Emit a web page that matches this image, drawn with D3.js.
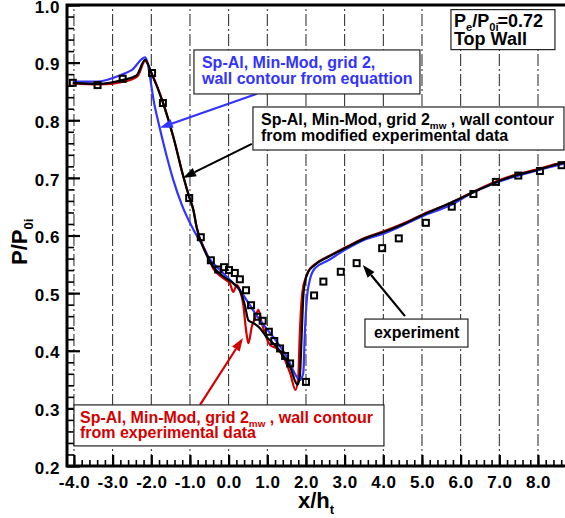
<!DOCTYPE html>
<html>
<head>
<meta charset="utf-8">
<script src="https://cdn.jsdelivr.net/npm/d3@7"></script>
<style>
	body { margin: 0; background: #fff; }
	text { font-family: "Liberation Sans", Arial, sans-serif; font-weight: bold; }
</style>
</head>
<body>
<div id="widget"></div>
<script>
// P/P0i along the top wall, Pe/P0 = 0.72

// experiment (squares)
var expX = [-4.03, -3.39, -2.74, -1.98, -1.70, -1.02, -0.72, -0.46, -0.27, -0.12, 0.01, 0.16, 0.29, 0.45, 0.58, 0.74, 0.88, 1.04, 1.18, 1.33, 1.46, 1.59, 2.00, 2.21, 2.45, 2.90, 3.31, 3.97, 4.40, 5.10, 5.77, 6.33, 6.91, 7.49, 8.05, 8.61];
var expP = [0.865, 0.861, 0.872, 0.882, 0.830, 0.665, 0.597, 0.557, 0.541, 0.545, 0.540, 0.535, 0.524, 0.505, 0.479, 0.459, 0.452, 0.433, 0.417, 0.404, 0.391, 0.378, 0.346, 0.496, 0.520, 0.537, 0.552, 0.578, 0.595, 0.622, 0.650, 0.672, 0.693, 0.704, 0.712, 0.722];

// Sp-Al, Min-Mod, grid 2, wall contour from equation (blue)
var eqX = [-4.03, -3.41, -2.77, -2.51, -2.16, -1.91, -1.78, -1.60, -1.43, -1.21, -0.91, -0.66, -0.53, -0.22, 0.03, 0.29, 0.55, 0.81, 1.15, 1.50, 1.76, 1.84, 1.93, 1.97, 2.02, 2.10, 2.23, 2.58, 3.01, 3.53, 4.04, 5.03, 5.72, 6.33, 6.93, 8.05, 8.75];
var eqP = [0.867, 0.867, 0.879, 0.887, 0.909, 0.824, 0.786, 0.737, 0.696, 0.653, 0.610, 0.581, 0.563, 0.540, 0.523, 0.505, 0.479, 0.453, 0.424, 0.390, 0.355, 0.349, 0.361, 0.430, 0.488, 0.523, 0.543, 0.557, 0.575, 0.593, 0.604, 0.634, 0.652, 0.675, 0.692, 0.714, 0.726];

// grid 2mw, wall contour from modified experimental data (black)
var modX = [-4.03, -3.37, -2.73, -2.38, -2.16, -1.99, -1.69, -1.43, -1.17, -1.02, -0.91, -0.83, -0.61, -0.40, -0.14, 0.12, 0.29, 0.42, 0.51, 0.64, 0.81, 0.98, 1.15, 1.37, 1.59, 1.78, 1.84, 1.89, 1.93, 1.97, 2.06, 2.23, 2.58, 3.01, 3.53, 4.04, 4.56, 5.03, 5.72, 6.33, 6.93, 7.45, 8.05, 8.40, 8.75];
var modP = [0.865, 0.863, 0.870, 0.878, 0.905, 0.881, 0.829, 0.771, 0.702, 0.667, 0.644, 0.615, 0.572, 0.546, 0.529, 0.517, 0.505, 0.479, 0.453, 0.448, 0.439, 0.424, 0.413, 0.396, 0.372, 0.341, 0.355, 0.430, 0.494, 0.517, 0.537, 0.549, 0.563, 0.578, 0.595, 0.607, 0.621, 0.636, 0.656, 0.675, 0.693, 0.705, 0.715, 0.722, 0.727];

// grid 2mw, wall contour from experimental data (red)
var rawX = [-4.03, -3.37, -2.64, -2.35, -2.16, -1.99, -1.69, -1.43, -1.17, -1.02, -0.91, -0.83, -0.57, -0.40, -0.14, 0.03, 0.12, 0.21, 0.29, 0.38, 0.45, 0.51, 0.60, 0.68, 0.77, 0.85, 0.94, 1.07, 1.24, 1.41, 1.59, 1.73, 1.80, 1.84, 1.89, 1.93, 1.97, 2.06, 2.23, 2.58, 3.01, 3.53, 4.04, 4.56, 5.03, 5.72, 6.33, 6.93, 7.45, 8.05, 8.40, 8.75];
var rawP = [0.864, 0.862, 0.868, 0.877, 0.903, 0.881, 0.829, 0.771, 0.702, 0.667, 0.644, 0.615, 0.569, 0.543, 0.526, 0.517, 0.502, 0.514, 0.505, 0.479, 0.436, 0.413, 0.442, 0.456, 0.471, 0.450, 0.430, 0.410, 0.404, 0.390, 0.361, 0.332, 0.355, 0.430, 0.490, 0.512, 0.522, 0.538, 0.550, 0.564, 0.579, 0.596, 0.608, 0.622, 0.637, 0.656, 0.676, 0.694, 0.706, 0.716, 0.723, 0.728];

var xTicks = [-4, -3, -2, -1, 0, 1, 2, 3, 4, 5, 6, 7, 8];
var yTicks = [0.2, 0.3, 0.4, 0.5, 0.6, 0.7, 0.8, 0.9, 1.0];

var width = 565, height = 518;
var blue = "#3333ff", red = "#d40000";

var svg = d3.select("#widget")
	.append("svg")
	.attr("width", width)
	.attr("height", height);

var x = d3.scaleLinear().domain([-4.18, 8.75]).range([67, 567]);
var y = d3.scaleLinear().domain([0.2, 1.0]).range([466, 5]);

// vertical dash-dot grid
svg.selectAll("line.grid")
	.data(xTicks)
	.enter()
	.append("line")
	.attr("class", "grid")
	.attr("x1", function(d) { return x(d); })
	.attr("x2", function(d) { return x(d); })
	.attr("y1", y(0.2))
	.attr("y2", y(1.0))
	.style("stroke", "#222")
	.style("stroke-width", 1)
	.style("stroke-dasharray", "12,3,2,3");

// inward ticks, minor first then major with labels
var xMinor = d3.range(-42, 88, 2).map(function(d) { return d / 10; });
var yMinor = d3.range(20, 101, 2).map(function(d) { return d / 100; });

svg.append("g")
	.attr("transform", "translate(0," + y(0.2) + ")")
	.call(d3.axisBottom(x).tickValues(xMinor).tickSize(-6).tickFormat(""));
svg.append("g")
	.attr("transform", "translate(" + x.range()[0] + ",0)")
	.call(d3.axisLeft(y).tickValues(yMinor).tickSize(-7).tickFormat(""));

svg.append("g")
	.attr("class", "xaxis")
	.attr("transform", "translate(0," + y(0.2) + ")")
	.call(d3.axisBottom(x).tickValues(xTicks).tickSize(-11).tickPadding(10)
		.tickFormat(function(d) { return d.toFixed(1); }));
svg.append("g")
	.attr("class", "yaxis")
	.attr("transform", "translate(" + x.range()[0] + ",0)")
	.call(d3.axisLeft(y).tickValues(yTicks).tickSize(-13).tickPadding(7)
		.tickFormat(function(d) { return d.toFixed(1); }));

svg.selectAll(".domain").remove();
svg.selectAll(".tick line").style("stroke", "#000").style("stroke-width", 1.6);
svg.selectAll(".xaxis .tick line, .yaxis .tick line").style("stroke-width", 2.2);
svg.selectAll(".tick text")
	.style("font-family", "'Liberation Sans', Arial, sans-serif")
	.style("font-weight", "bold")
	.style("font-size", "17px")
	.style("letter-spacing", "0.5px")
	.attr("fill", "#000");
svg.selectAll(".yaxis .tick text").attr("dy", "0.42em");

// frame
svg.append("rect")
	.attr("x", x.range()[0])
	.attr("y", y(1.0))
	.attr("width", x.range()[1] - x.range()[0])
	.attr("height", y(0.2) - y(1.0))
	.style("fill", "none")
	.style("stroke", "#000")
	.style("stroke-width", 3);

// axis titles
var xt = svg.append("text")
	.attr("x", 298)
	.attr("y", 508)
	.style("font-size", "22px");
xt.append("tspan").text("x/h");
xt.append("tspan").attr("dy", 6).style("font-size", "13px").text("t");

var yt = svg.append("text")
	.attr("transform", "translate(27,265) rotate(-90)")
	.style("font-size", "22px");
yt.append("tspan").text("P/P");
yt.append("tspan").attr("dy", 6).style("font-size", "13px").text("0i");

// curves
function series(xs, ps) {
	return xs.map(function(d, i) { return [d, ps[i]]; });
}

var line = d3.line()
	.x(function(d) { return x(d[0]); })
	.y(function(d) { return y(d[1]); })
	.curve(d3.curveMonotoneX);

var curves = [
	{ data: series(rawX, rawP), colour: red },
	{ data: series(eqX, eqP), colour: blue },
	{ data: series(modX, modP), colour: "#000" }
];

svg.selectAll("path.curve")
	.data(curves)
	.enter()
	.append("path")
	.attr("class", "curve")
	.attr("d", function(d) { return line(d.data); })
	.style("fill", "none")
	.style("stroke", function(d) { return d.colour; })
	.style("stroke-width", 2.2);

// experiment squares
svg.selectAll("rect.exp")
	.data(series(expX, expP))
	.enter()
	.append("rect")
	.attr("class", "exp")
	.attr("x", function(d) { return x(d[0]) - 3; })
	.attr("y", function(d) { return y(d[1]) - 3; })
	.attr("width", 6)
	.attr("height", 6)
	.style("fill", "none")
	.style("stroke", "#000")
	.style("stroke-width", 2);

// arrows: tail and tip in data coords
function arrow(x0, y0, x1, y1, colour) {
	var ax = x(x0), ay = y(y0), bx = x(x1), by = y(y1);
	var ang = Math.atan2(by - ay, bx - ax);
	var len = 13, half = 4.5;
	var cx = bx - len * Math.cos(ang), cy = by - len * Math.sin(ang);
	svg.append("line")
		.attr("x1", ax).attr("y1", ay)
		.attr("x2", cx).attr("y2", cy)
		.style("stroke", colour)
		.style("stroke-width", 2.2);
	svg.append("path")
		.attr("d", "M" + bx + "," + by +
			"L" + (cx + half * Math.sin(ang)) + "," + (cy - half * Math.cos(ang)) +
			"L" + (cx - half * Math.sin(ang)) + "," + (cy + half * Math.cos(ang)) + "Z")
		.style("fill", colour);
}

arrow(0.73, 0.846, -1.78, 0.787, blue);
arrow(0.60, 0.759, -1.18, 0.700, "#000");
arrow(-0.74, 0.306, 0.37, 0.422, red);
arrow(4.56, 0.460, 3.47, 0.549, "#000");

// label boxes
function box(bx, by, w, h, colour, lines, size) {
	var g = svg.append("g")
		.attr("transform", "translate(" + x(bx) + "," + y(by) + ")");
	g.append("rect")
		.attr("width", w)
		.attr("height", h)
		.style("fill", "#fff")
		.style("stroke", "#222")
		.style("stroke-width", 1.2);
	lines.forEach(function(l) {
		var t = g.append("text")
			.attr("x", l.x)
			.attr("y", l.y)
			.attr("fill", colour)
			.style("font-size", size + "px");
		var down = 0;
		l.parts.forEach(function(p) {
			if (p.sub) {
				t.append("tspan").attr("dy", 4).attr("dx", p.dx || 0)
					.style("font-size", (size * 0.62) + "px").text(p.sub);
				down = 4;
			} else {
				t.append("tspan").attr("dy", -down).attr("dx", p.dx || 0).text(p.t);
				down = 0;
			}
		});
	});
}

var gridLine = [{ t: "Sp-Al, Min-Mod, grid 2" }, { sub: "mw" }, { t: " , wall contour" }];

box(-0.897, 0.922, 226, 44, blue, [
	{ x: 8, y: 18, parts: [{ t: "Sp-Al, Min-Mod, grid 2," }] },
	{ x: 8, y: 34, parts: [{ t: "wall contour from equattion" }] }
], 16);

box(0.629, 0.823, 311, 43, "#000", [
	{ x: 8, y: 18, parts: gridLine },
	{ x: 8, y: 34, parts: [{ t: "from modified experimental data" }] }
], 16);

box(-4.0, 0.306, 310, 41, red, [
	{ x: 6, y: 18, parts: gridLine },
	{ x: 6, y: 33, parts: [{ t: "from experimental data" }] }
], 16);

box(3.525, 0.455, 103, 28, "#000", [
	{ x: 9, y: 19, parts: [{ t: "experiment" }] }
], 16);

box(5.749, 0.992, 104, 40, "#000", [
	{ x: 3, y: 17, parts: [{ t: "P" }, { sub: "e" }, { t: "/P" }, { sub: "0i" }, { t: "=0.72", dx: -1 }] },
	{ x: 3, y: 35, parts: [{ t: "Top Wall" }] }
], 18);
</script>
</body>
</html>
